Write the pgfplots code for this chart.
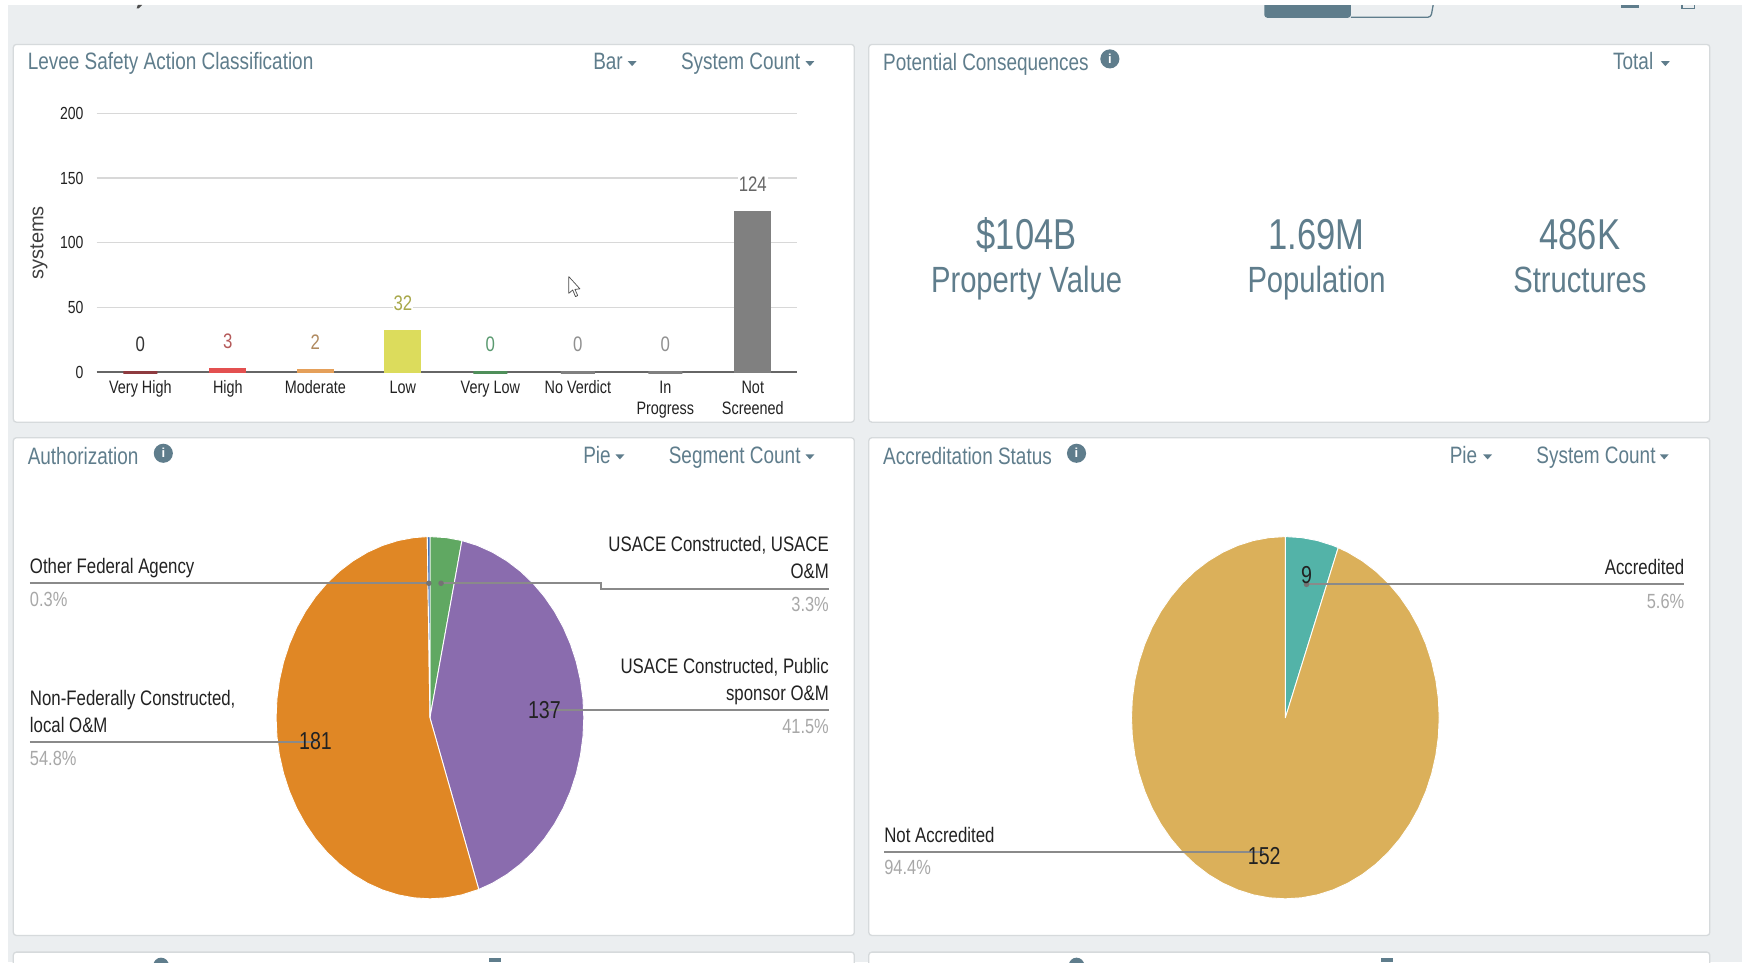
\documentclass[border=0pt]{standalone}
\usepackage{pgfplots}
\pgfplotsset{compat=1.18}
\usepackage{fontspec}
\setmainfont{Liberation Sans}
\newfontfamily\cf[FakeStretch=0.8]{Liberation Sans}
\newcommand\Fs[1]{\fontsize{#1}{#1}\cf\selectfont}
\definecolor{bgc}{HTML}{EBEEF0}
\definecolor{slate}{HTML}{5F7D8C}
\definecolor{edgec}{HTML}{D6DADC}
\definecolor{lead}{HTML}{8A8A8A}
\definecolor{blk}{HTML}{222222}
\definecolor{pct}{HTML}{A8A8A8}
\definecolor{gridc}{HTML}{D8D8D8}
\definecolor{orangec}{HTML}{E08725}
\definecolor{purplec}{HTML}{8A6CAE}
\definecolor{greenc}{HTML}{60A862}
\definecolor{bluec}{HTML}{3F6FB5}
\definecolor{tealc}{HTML}{53B3A8}
\definecolor{goldc}{HTML}{DBB05A}
\definecolor{b1}{HTML}{8E3B3F}
\definecolor{b2}{HTML}{E35050}
\definecolor{b3}{HTML}{E5A05A}
\definecolor{b4}{HTML}{DCDC5C}
\definecolor{b5}{HTML}{4F8F5A}
\definecolor{b6}{HTML}{808080}
\definecolor{l1}{HTML}{333333}
\definecolor{l2}{HTML}{B55A5A}
\definecolor{l3}{HTML}{B08A60}
\definecolor{l4}{HTML}{A8A84A}
\definecolor{l5}{HTML}{5A9A70}
\definecolor{l6}{HTML}{909090}
\definecolor{l8}{HTML}{666666}
\tikzset{
  panel/.style={fill=white,draw=edgec,line width=1.3pt,rounded corners=3pt},
  t/.style={inner sep=0pt,outer sep=0pt,text=slate,font=\Fs{23.7}},
  lab/.style={inner sep=0pt,outer sep=0pt,text=blk,font=\Fs{21}},
  pc/.style={inner sep=0pt,outer sep=0pt,text=pct,font=\Fs{20.5}},
  num/.style={inner sep=0pt,outer sep=0pt,text=blk,anchor=mid,font=\Fs{24.5}},
  leader/.style={draw=lead,line width=1.9pt},
}
\newcommand\caret[2]{\fill[slate] (#1-4,#2-2) -- (#1+4,#2-2) -- (#1,#2+2.5) -- cycle;}
\newcommand\info[2]{\fill[slate] (#1,#2) circle (8.6);\node[inner sep=0pt,text=white,font=\fontsize{13}{13}\bfseries\selectfont] at (#1,#2) {i};}
\pgfplotsset{
  barp/.style={ybar,bar shift=0pt,bar width=35.6pt,fill=#1,draw=#1,line width=1.3pt,
    nodes near coords},
  barz/.style={ybar,bar shift=0pt,bar width=34pt,fill=#1,draw=#1,line width=3pt,
    nodes near coords},
  bl/.style={every node near coord/.append style={text=#1}},
  pie/.style={hide axis,scale only axis,clip=false,width=307.7pt,height=362.2pt,
    xmin=-1,xmax=1,ymin=-1,ymax=1,anchor=center},
  slice/.style={data cs=polar,fill=#1,draw=white,line width=0.9pt,no markers,line join=round,forget plot},
}
\begin{document}
\begin{tikzpicture}[x=1.11097pt,y=-1.11097pt]
\path[use as bounding box] (0,0) rectangle (1568,866);
\clip (0,0) rectangle (1568,866);
\fill[white] (0,0) rectangle (1568,866);
\fill[bgc] (7,4.5) rectangle (1568,866);
% panels
\draw[panel] (12,40) rectangle (769,380);
\draw[panel] (782,40) rectangle (1539,380);
\draw[panel] (12,394) rectangle (769,842);
\draw[panel] (782,394) rectangle (1539,842);
\draw[panel] (12,857) rectangle (769,890);
\draw[panel] (782,857) rectangle (1539,890);
% clipped top of the page
\fill[bgc] (1216,4.5) rectangle (1290,16);
\draw[slate,line width=1.3pt,rounded corners=3pt] (1216,15.5) -- (1288,15.5) -- (1290,4.5);
\fill[slate,rounded corners=3pt] (1138,0) rectangle (1216,16);
\fill[white] (1130,0) rectangle (1300,4.5);
\fill[slate] (1459,4.5) rectangle (1475,7);
\draw[slate,line width=1.2pt] (1514,4.5) -- (1514,8) -- (1525,8) -- (1525,4.5);
\fill[black!70] (124,4.5) -- (128,4.5) -- (125,7.5) -- (123,7.5) -- cycle;
% bottom row clipped
\fill[slate] (145,869) circle (7);
\fill[slate] (440,862) rectangle (451,866);
\fill[slate] (969,869) circle (7);
\fill[slate] (1243,862) rectangle (1254,866);
% headers
\node[t,anchor=mid west] at (25,60) {Levee Safety Action Classification};
\node[t,anchor=mid west] at (534,60) {Bar}; \caret{569}{57}
\node[t,anchor=mid west] at (613,60) {System Count}; \caret{729}{57}
\node[t,anchor=mid west] at (795,61) {Potential Consequences}; \info{999}{53}
\node[t,anchor=mid west] at (1452,60) {Total}; \caret{1499}{57}
\node[t,anchor=mid west] at (25,416) {Authorization}; \info{147}{408}
\node[t,anchor=mid west] at (525,414.5) {Pie}; \caret{558}{411}
\node[t,anchor=mid west] at (602,414.5) {Segment Count}; \caret{729}{411}
\node[t,anchor=mid west] at (795,416) {Accreditation Status}; \info{969}{408}
\node[t,anchor=mid west] at (1305,414.5) {Pie}; \caret{1339}{411}
\node[t,anchor=mid west] at (1383,414.5) {System Count}; \caret{1498}{411}
% KPI
\node[t,anchor=mid,font=\Fs{43.2}] at (924,222) {\$104B};
\node[t,anchor=mid,font=\Fs{36.5}] at (924,260.5) {Property Value};
\node[t,anchor=mid,font=\Fs{43.2}] at (1185,222) {1.69M};
\node[t,anchor=mid,font=\Fs{36.5}] at (1185,260.5) {Population};
\node[t,anchor=mid,font=\Fs{43.2}] at (1422,222) {486K};
\node[t,anchor=mid,font=\Fs{36.5}] at (1422,260.5) {Structures};
% bar chart
\begin{axis}[
  at={(96.65pt,-372.2pt)},anchor=south west,
  scale only axis,width=699.9pt,height=258.9pt,
  xmin=-0.5,xmax=7.5,ymin=0,ymax=200,
  axis x line=bottom,axis y line=left,
  axis line style={-},
  x axis line style={draw=black!60,line width=1.6pt},
  y axis line style={draw=none},
  major tick length=0pt,
  ymajorgrids,grid style={draw=gridc,line width=1.3pt},
  ytick={0,50,100,150,200},
  xtick={0,1,2,3,4,5,6,7},
  xticklabels={Very High,High,Moderate,Low,Very Low,No Verdict,In\\Progress,Not\\Screened},
  /pgf/number format/assume math mode=true,
  xticklabel style={align=center,inner sep=0pt,yshift=-8.5pt,text=blk,font=\fontsize{18}{21}\cf\selectfont},
  yticklabel style={inner sep=0pt,xshift=-13pt,text=blk,font=\Fs{17.5}},
  ylabel={systems},
  every axis y label/.style={at={(axis description cs:-0.0825,0.5)},rotate=90,anchor=center,font=\fontsize{20}{20}\selectfont,text=black!75},
  every node near coord/.append style={anchor=center,yshift=27.5pt,inner sep=1pt,fill=white,font=\Fs{21}},
  clip=false,
]
\addplot[barz=b1,bl=l1] coordinates {(0,0)};
\addplot[barp=b2,bl=l2] coordinates {(1,3)};
\addplot[barp=b3,bl=l3] coordinates {(2,2)};
\addplot[barp=b4,bl=l4] coordinates {(3,32)};
\addplot[barz=b5,bl=l5] coordinates {(4,0)};
\addplot[barz=b6,bl=l6] coordinates {(5,0)};
\addplot[barz=b6,bl=l6] coordinates {(6,0)};
\addplot[barp=b6,bl=l8] coordinates {(7,124)};
\end{axis}
% cursor
\draw[black!70,fill=white,line width=0.7pt,line join=round] (512,249) -- (512,264) -- (515.5,261) -- (518,267) -- (520,266) -- (517.5,260.5) -- (522,260) -- cycle;
% left pie
\begin{axis}[pie,at={(429.95pt,-717.7pt)}]
\addplot[slice=greenc] coordinates {(0,0) (90,1) (84,1) (78,1)} -- cycle;
\addplot[slice=purplec] coordinates {(0,0) (78,1) (72,1) (66,1) (60,1) (54,1) (48,1) (42,1) (36,1) (30,1) (24,1) (18,1) (12,1) (6,1) (0,1) (-6,1) (-12,1) (-18,1) (-24,1) (-30,1) (-36,1) (-42,1) (-48,1) (-54,1) (-60,1) (-66,1) (-71.5,1)} -- cycle;
\addplot[slice=orangec] coordinates {(0,0) (-71.5,1) (-78,1) (-84,1) (-90,1) (-96,1) (-102,1) (-108,1) (-114,1) (-120,1) (-126,1) (-132,1) (-138,1) (-144,1) (-150,1) (-156,1) (-162,1) (-168,1) (-174,1) (-180,1) (-186,1) (-192,1) (-198,1) (-204,1) (-210,1) (-216,1) (-222,1) (-228,1) (-234,1) (-240,1) (-246,1) (-252,1) (-258,1) (-264,1) (-269,1)} -- cycle;
\addplot[slice=bluec] coordinates {(0,0) (-269,1) (-270,1)} -- cycle;
\end{axis}
% right pie
\begin{axis}[pie,at={(1285.35pt,-717.7pt)}]
\addplot[slice=tealc] coordinates {(0,0) (90,1) (84,1) (78,1) (72,1) (69.9,1)} -- cycle;
\addplot[slice=goldc] coordinates {(0,0) (69.9,1) (66,1) (60,1) (54,1) (48,1) (42,1) (36,1) (30,1) (24,1) (18,1) (12,1) (6,1) (0,1) (-6,1) (-12,1) (-18,1) (-24,1) (-30,1) (-36,1) (-42,1) (-48,1) (-54,1) (-60,1) (-66,1) (-72,1) (-78,1) (-84,1) (-90,1) (-96,1) (-102,1) (-108,1) (-114,1) (-120,1) (-126,1) (-132,1) (-138,1) (-144,1) (-150,1) (-156,1) (-162,1) (-168,1) (-174,1) (-180,1) (-186,1) (-192,1) (-198,1) (-204,1) (-210,1) (-216,1) (-222,1) (-228,1) (-234,1) (-240,1) (-246,1) (-252,1) (-258,1) (-264,1) (-270,1)} -- cycle;
\end{axis}
% leaders
\draw[leader] (27,525) -- (386,525); \fill[black!55] (386,525) circle (2.5);
\draw[leader] (397,525) -- (541,525) -- (541,530) -- (746,530); \fill[black!55] (397,525) circle (2.5);
\draw[leader] (490,639) -- (746,639);
\draw[leader] (27,668) -- (284,668);
\draw[leader] (1176,526) -- (1516,526); \fill[black!55] (1176,526) circle (2.5);
\draw[leader] (796,767) -- (1138,767);
% pie labels
\node[lab,anchor=mid west] at (27,514) {Other Federal Agency};
\node[pc,anchor=mid west] at (27,543.5) {0.3\%};
\node[lab,anchor=mid east] at (746,494) {USACE Constructed, USACE};
\node[lab,anchor=mid east] at (746,518) {O\&M};
\node[pc,anchor=mid east] at (746,548) {3.3\%};
\node[lab,anchor=mid east] at (746,604) {USACE Constructed, Public};
\node[lab,anchor=mid east] at (746,628) {sponsor O\&M};
\node[pc,anchor=mid east] at (746,658) {41.5\%};
\node[lab,anchor=mid west] at (27,633) {Non-Federally Constructed,};
\node[lab,anchor=mid west] at (27,657) {local O\&M};
\node[pc,anchor=mid west] at (27,686.5) {54.8\%};
\node[num] at (284,672) {181};
\node[num] at (490,644) {137};
\node[lab,anchor=mid east] at (1516,515) {Accredited};
\node[pc,anchor=mid east] at (1516,545) {5.6\%};
\node[lab,anchor=mid west] at (796,756) {Not Accredited};
\node[pc,anchor=mid west] at (796,785) {94.4\%};
\node[num] at (1176,523) {9};
\node[num] at (1138,776) {152};
\end{tikzpicture}
\end{document}
